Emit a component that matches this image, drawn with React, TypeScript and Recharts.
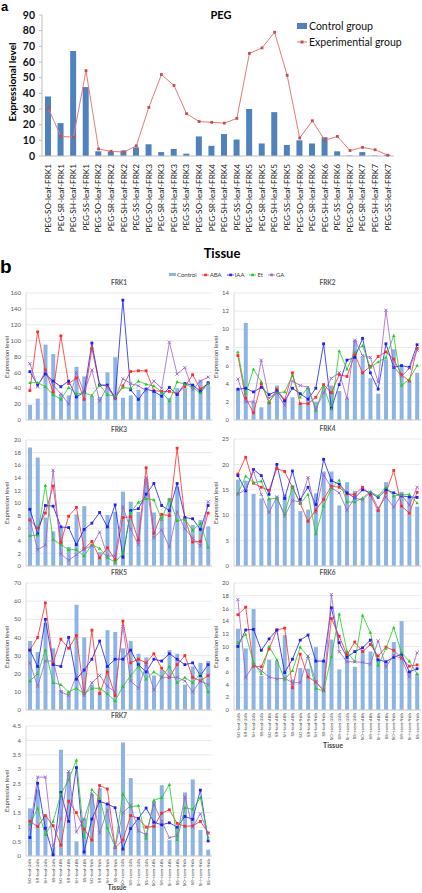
import React from 'react';
import { ComposedChart, Bar, Line, XAxis, YAxis, CartesianGrid } from 'recharts';

// Panel a: PEG treatment
const pegLabels = [
  'PEG-SO-leaf-FRK1', 'PEG-SR-leaf-FRK1', 'PEG-SH-leaf-FRK1', 'PEG-SS-leaf-FRK1',
  'PEG-SO-leaf-FRK2', 'PEG-SR-leaf-FRK2', 'PEG-SH-leaf-FRK2', 'PEG-SS-leaf-FRK2',
  'PEG-SO-leaf-FRK3', 'PEG-SR-leaf-FRK3', 'PEG-SH-leaf-FRK3', 'PEG-SS-leaf-FRK3',
  'PEG-SO-leaf-FRK4', 'PEG-SR-leaf-FRK4', 'PEG-SH-leaf-FRK4', 'PEG-SS-leaf-FRK4',
  'PEG-SO-leaf-FRK5', 'PEG-SR-leaf-FRK5', 'PEG-SH-leaf-FRK5', 'PEG-SS-leaf-FRK5',
  'PEG-SO-leaf-FRK6', 'PEG-SR-leaf-FRK6', 'PEG-SH-leaf-FRK6', 'PEG-SS-leaf-FRK6',
  'PEG-SO-leaf-FRK7', 'PEG-SR-leaf-FRK7', 'PEG-SH-leaf-FRK7', 'PEG-SS-leaf-FRK7',
];
const pegControl = [38, 21, 67, 44, 3, 3, 3.5, 5.5, 7.5, 2.5, 4.5, 1.5, 12.5, 6.5, 14, 10.5, 30, 8, 28, 7, 10, 8, 12, 3, 0.3, 2.5, 0.3, 0.8];
const pegExperimental = [30.5, 12.5, 12, 54.5, 4.5, 3, 2.5, 6.5, 31, 52, 45, 27, 22, 21.5, 21, 24, 65.5, 69, 79, 51.5, 11.5, 22.5, 10, 12.5, 3.5, 5.5, 4, 0.5];
const pegTicks = [0, 10, 20, 30, 40, 50, 60, 70, 80, 90];

// Panel b: hormone treatments
const tissues = [
  'SO-leaf-24h', 'SR-leaf-24h', 'SH-leaf-24h', 'SS-leaf-24h',
  'SO-leaf-48h', 'SR-leaf-48h', 'SH-leaf-48h', 'SS-leaf-48h',
  'SO-leaf-96h', 'SR-leaf-96h', 'SH-leaf-96h', 'SS-leaf-96h',
  'SO-stem-24h', 'SR-stem-24h', 'SH-stem-24h', 'SS-stem-24h',
  'SO-stem-48h', 'SR-stem-48h', 'SH-stem-48h', 'SS-stem-48h',
  'SO-stem-96h', 'SR-stem-96h', 'SH-stem-96h', 'SS-stem-96h',
];

const frk1Control = [19, 27, 95, 83, 33, 31, 67, 55, 30, 29, 60, 79, 28, 31, 38, 40, 37, 35, 28, 40, 40, 45, 50, 44];
const frk1Aba = [37, 111, 63, 35, 106, 46, 53, 26, 90, 44, 43, 27, 43, 61, 62, 62, 37, 36, 36, 33, 42, 57, 39, 46];
const frk1Iaa = [61, 44, 58, 49, 42, 49, 29, 35, 97, 44, 44, 28, 151, 38, 26, 39, 36, 30, 41, 32, 46, 44, 36, 47];
const frk1Et = [47, 47, 42, 32, 26, 41, 33, 34, 31, 44, 32, 30, 41, 40, 49, 45, 43, 35, 24, 48, 45, 41, 34, 46];
const frk1Ga = [71, 42, 62, 44, 33, 20, 60, 35, 63, 24, 42, 27, 52, 46, 43, 37, 49, 40, 98, 58, 66, 38, 49, 54];

const frk2Control = [3.4, 10.7, 2.0, 1.4, 2.0, 3.8, 2.3, 2.5, 1.8, 3.5, 2.0, 3.5, 3.8, 3.2, 2.4, 8.8, 7.0, 4.6, 2.9, 6.7, 7.8, 5.9, 4.3, 5.2];
const frk2Aba = [7.1, 2.4, 0.8, 4.0, 1.9, 3.4, 2.2, 5.2, 1.8, 1.8, 2.5, 3.9, 3.0, 5.0, 4.8, 7.2, 5.2, 5.9, 7.0, 7.5, 6.7, 5.0, 4.3, 7.9];
const frk2Iaa = [3.4, 3.5, 3.1, 3.6, 2.8, 3.2, 2.1, 3.5, 2.9, 2.3, 3.5, 8.4, 1.3, 3.9, 6.6, 6.9, 9.0, 5.2, 3.4, 8.4, 5.8, 6.0, 5.8, 8.3];
const frk2Et = [7.5, 2.9, 5.6, 4.2, 2.0, 3.0, 3.1, 4.9, 2.5, 3.6, 1.0, 3.7, 1.2, 7.6, 5.6, 7.5, 8.2, 5.8, 6.4, 6.9, 9.3, 3.8, 4.5, 6.0];
const frk2Ga = [4.5, 2.0, 2.0, 6.6, 2.4, 3.0, 1.6, 4.3, 3.8, 3.6, 1.2, 3.0, 4.6, 5.2, 2.4, 8.8, 7.1, 6.9, 4.2, 12.1, 5.9, 4.8, 5.7, 7.7];

const frk3Control = [18.8, 17.2, 7.7, 5.5, 6.0, 3.0, 8.2, 9.5, 3.3, 2.2, 8.1, 8.6, 11.8, 10.2, 8.6, 13.8, 8.5, 8.1, 10.8, 12.6, 7.5, 6.5, 7.3, 6.3];
const frk3Aba = [7.3, 6.0, 8.4, 12.7, 3.7, 7.9, 9.3, 2.7, 3.9, 1.3, 2.9, 1.0, 7.7, 7.8, 4.1, 15.6, 5.2, 8.2, 8.0, 18.7, 7.6, 3.8, 3.9, 8.4];
const frk3Iaa = [9.0, 5.1, 9.6, 9.5, 6.2, 6.1, 3.4, 5.8, 6.8, 8.5, 6.2, 9.7, 1.4, 8.8, 9.1, 11.4, 13.1, 9.6, 8.8, 13.1, 7.7, 7.5, 5.8, 9.6];
const frk3Et = [4.8, 4.9, 12.8, 4.2, 3.4, 2.6, 2.6, 1.6, 3.4, 2.8, 1.3, 0.6, 2.0, 8.5, 10.1, 10.7, 10.5, 7.4, 10.6, 7.2, 7.4, 5.7, 6.8, 3.0];
const frk3Ga = [7.4, 2.6, 3.3, 15.2, 1.9, 0.9, 1.8, 2.7, 3.2, 5.4, 1.6, 1.6, 9.4, 5.8, 3.4, 14.0, 4.5, 5.7, 3.0, 8.6, 5.9, 4.4, 3.2, 10.2];

const frk4Control = [17.0, 16.8, 14.2, 13.3, 13.3, 13.7, 14.1, 15.9, 10.8, 11.1, 14.3, 18.6, 18.6, 11.9, 16.5, 14.8, 13.3, 14.5, 11.0, 16.5, 13.9, 14.6, 13.7, 11.7];
const frk4Aba = [18.1, 21.4, 16.3, 15.5, 14.9, 19.2, 18.6, 15.5, 12.3, 8.8, 11.0, 13.1, 15.7, 15.5, 14.2, 14.1, 15.5, 14.0, 10.9, 14.4, 18.8, 11.8, 10.4, 14.5];
const frk4Iaa = [17.8, 14.8, 19.0, 17.8, 14.1, 20.0, 13.3, 18.7, 13.1, 15.5, 12.1, 21.0, 16.8, 16.1, 14.4, 13.4, 15.0, 14.4, 13.5, 15.0, 14.4, 13.8, 13.6, 13.5];
const frk4Et = [14.3, 17.7, 16.4, 16.7, 13.2, 13.3, 10.3, 15.6, 12.3, 14.1, 6.3, 11.8, 15.3, 16.9, 12.6, 12.6, 13.4, 14.6, 13.8, 15.5, 13.8, 14.0, 14.1, 12.4];
const frk4Ga = [14.1, 15.1, 18.6, 14.1, 10.5, 13.6, 9.8, 12.9, 12.6, 17.4, 10.5, 18.0, 15.4, 14.4, 11.0, 13.4, 13.0, 14.5, 11.4, 13.6, 11.6, 14.0, 12.0, 15.5];

const frk5Control = [38, 32, 48, 34, 11, 10, 58, 40, 14, 10, 44, 43, 34, 38, 31, 29, 19, 22, 33, 31, 14, 24, 26, 27];
const frk5Aba = [33, 40, 59, 26, 39, 34, 41, 9, 44, 9, 21, 8, 49, 26, 28, 26, 31, 23, 18, 25, 30, 18, 16, 19];
const frk5Iaa = [33, 24, 50, 25, 24, 40, 17, 22, 28, 38, 24, 28, 28, 33, 25, 21, 28, 27, 31, 28, 25, 26, 19, 25];
const frk5Et = [16, 20, 33, 15, 14, 10, 12, 9, 12, 12, 9, 5, 13, 19, 24, 17, 21, 18, 24, 15, 18, 15, 20, 10];
const frk5Ga = [26, 13, 27, 27, 10, 8, 19, 8, 15, 19, 13, 10, 46, 16, 12, 25, 11, 18, 18, 18, 16, 10, 16, 14];

const frk6Control = [12.8, 9.7, 15.9, 5.4, 7.9, 7.7, 11.8, 4.8, 6.6, 6.5, 9.9, 7.7, 11.1, 6.4, 9.0, 6.8, 9.5, 9.2, 8.0, 7.6, 10.7, 14.0, 6.0, 5.7];
const frk6Aba = [15.0, 16.2, 6.9, 6.8, 9.6, 12.6, 12.9, 3.5, 8.8, 5.2, 4.4, 3.1, 14.4, 11.6, 8.7, 10.7, 9.2, 10.3, 8.5, 9.9, 9.4, 8.2, 6.9, 7.1];
const frk6Iaa = [10.0, 12.6, 12.7, 9.4, 11.2, 12.6, 5.9, 8.0, 11.0, 11.8, 7.7, 7.7, 16.1, 10.6, 8.3, 9.2, 9.8, 11.0, 7.9, 7.6, 8.3, 8.8, 6.0, 6.5];
const frk6Et = [10.6, 11.9, 7.5, 5.7, 10.0, 7.9, 4.8, 6.2, 9.9, 8.4, 3.4, 3.0, 8.4, 15.1, 9.2, 7.6, 14.9, 12.2, 7.0, 9.7, 13.0, 9.0, 7.7, 5.7];
const frk6Ga = [17.4, 5.1, 7.1, 6.2, 5.2, 4.9, 5.0, 4.3, 4.3, 8.5, 4.4, 3.1, 18.2, 9.2, 7.6, 7.6, 7.5, 7.2, 10.9, 6.8, 8.6, 8.1, 5.2, 9.0];

const frk7Control = [1.65, 2.3, 1.4, 0.3, 3.68, 2.9, 0.5, 1.3, 2.15, 2.35, 1.8, 0.3, 3.93, 2.7, 1.3, 0.8, 1.9, 2.45, 0.55, 1.0, 2.2, 2.65, 0.9, 0.22];
const frk7Aba = [1.2, 1.02, 1.4, 1.05, 0.37, 1.9, 1.5, 0.93, 0.55, 2.44, 2.32, 0.3, 0.55, 1.4, 1.3, 1.0, 1.02, 1.48, 1.6, 1.13, 1.03, 1.04, 1.2, 0.8];
const frk7Iaa = [0.64, 2.52, 0.96, 0.04, 2.2, 1.2, 3.06, 0.14, 1.28, 1.89, 1.8, 1.67, 0.24, 0.95, 1.3, 1.66, 1.17, 1.08, 1.15, 1.0, 1.37, 1.27, 2.28, 0.52];
const frk7Et = [1.1, 1.65, 0.74, 1.2, 2.15, 2.64, 3.32, 0.65, 2.3, 2.0, 0.97, 0.32, 2.15, 1.7, 1.75, 0.62, 1.93, 2.02, 2.47, 0.56, 1.67, 1.62, 2.02, 0.65];
const frk7Ga = [0.93, 2.73, 2.73, 0.35, 1.3, 2.93, 0.83, 1.27, 2.15, 0.8, 1.58, 0.3, 1.5, 1.75, 0.87, 0.74, 1.8, 1.2, 0.63, 0.7, 2.04, 1.0, 1.46, 0.78];

const FONT = 'Lato, "Liberation Sans", sans-serif';
const BAR_BLUE = '#8EB4E3';
const COLORS = { aba: '#FF2A2A', iaa: '#1F1FEE', et: '#1FCC1F', ga: '#9A62C8' };

// marker shapes, roughly like the Excel ones
const squareDot = (color: string) => (p: any) => (
  <rect key={`s-${p.index}`} x={p.cx - 1.4} y={p.cy - 1.4} width={2.8} height={2.8} fill={color} />
);
const triangleDot = (color: string) => (p: any) => (
  <path key={`t-${p.index}`} d={`M${p.cx},${p.cy - 1.8}L${p.cx + 1.7},${p.cy + 1.3}L${p.cx - 1.7},${p.cy + 1.3}Z`} fill={color} />
);
const crossDot = (color: string) => (p: any) => (
  <path key={`c-${p.index}`} d={`M${p.cx - 1.6},${p.cy - 1.6}L${p.cx + 1.6},${p.cy + 1.6}M${p.cx + 1.6},${p.cy - 1.6}L${p.cx - 1.6},${p.cy + 1.6}`} stroke={color} strokeWidth={0.9} />
);

const PegTick = (props: any) => {
  const { x, y, payload } = props;
  return (
    <text x={x} y={y} transform={`rotate(-90 ${x} ${y})`} textAnchor="end" dy="0.35em"
      fontSize={8.2} fontFamily={FONT} fill="#111">
      {payload.value}
    </text>
  );
};

const TissueTick = (props: any) => {
  const { x, y, payload } = props;
  return (
    <text x={x} y={y} transform={`rotate(-90 ${x} ${y})`} textAnchor="end" dy="0.35em"
      fontSize={4.6} fontFamily={FONT} fill="#404040">
      {payload.value}
    </text>
  );
};

const abs = (left: number, top: number): React.CSSProperties => ({ position: 'absolute', left, top });

interface SmallProps {
  title: string;
  col: 0 | 1;
  plotTop: number;
  plotBottom: number;
  ticks: number[];
  control: number[];
  aba: number[];
  iaa: number[];
  et: number[];
  ga: number[];
  showX?: boolean;
}

const SmallChart: React.FC<SmallProps> = ({ title, col, plotTop, plotBottom, ticks, control, aba, iaa, et, ga, showX }) => {
  const data = tissues.map((t, i) => ({
    tissue: t, control: control[i], aba: aba[i], iaa: iaa[i], et: et[i], ga: ga[i],
  }));
  const xh = showX ? 40 : 2;
  const height = 4 + (plotBottom - plotTop) + xh;
  const left = col === 0 ? 0 : 207;
  const margin = col === 0 ? { top: 4, right: 3, bottom: 0, left: 8 } : { top: 4, right: 1, bottom: 0, left: 9 };
  const plotLeft = left + margin.left + 18;
  const plotRight = left + 215 - margin.right;
  const midX = (plotLeft + plotRight) / 2;
  return (
    <>
      <div style={{ ...abs(midX - 30, plotTop - 14), width: 60, textAlign: 'center', fontSize: 6.5, fontWeight: 700, color: '#595959' }}>
        {title}
      </div>
      <div style={{
        ...abs(left + (col === 0 ? 7 : 9) - 30, (plotTop + plotBottom) / 2 - 4), width: 60, textAlign: 'center',
        fontSize: 6, color: '#404040', transform: 'rotate(-90deg)', lineHeight: '8px',
      }}>
        Expression level
      </div>
      <div style={abs(left, plotTop - 4)}>
        <ComposedChart width={215} height={height} data={data} margin={margin} style={{ overflow: 'visible' }}>
          <CartesianGrid vertical={false} stroke="#DCDCDC" strokeWidth={0.6} />
          <XAxis dataKey="tissue" interval={0} height={xh} axisLine={{ stroke: '#D0D0D0' }} tickLine={false}
            tickSize={2} tickMargin={1} tick={showX ? <TissueTick /> : false} />
          <YAxis width={18} domain={[ticks[0], ticks[ticks.length - 1]]} ticks={ticks} interval={0}
            axisLine={{ stroke: '#D9D9D9' }} tickLine={false} tickSize={3} tickMargin={2}
            tick={{ fontSize: 6, fill: '#595959', fontFamily: FONT }} />
          <Bar dataKey="control" fill={BAR_BLUE} barSize={4} isAnimationActive={false} />
          <Line dataKey="aba" stroke={COLORS.aba} strokeWidth={0.8} dot={squareDot(COLORS.aba)} isAnimationActive={false} />
          <Line dataKey="iaa" stroke={COLORS.iaa} strokeWidth={0.8} dot={squareDot(COLORS.iaa)} isAnimationActive={false} />
          <Line dataKey="et" stroke={COLORS.et} strokeWidth={0.8} dot={triangleDot(COLORS.et)} isAnimationActive={false} />
          <Line dataKey="ga" stroke={COLORS.ga} strokeWidth={0.8} dot={crossDot(COLORS.ga)} isAnimationActive={false} />
        </ComposedChart>
      </div>
    </>
  );
};

const legendItem = (color: string, label: string, bar?: boolean) => (
  <span key={label} style={{ display: 'inline-flex', alignItems: 'center', marginRight: 5 }}>
    {bar ? (
      <span style={{ display: 'inline-block', width: 7, height: 3, background: color, marginRight: 1 }} />
    ) : (
      <svg width={7} height={4} style={{ marginRight: 1 }}>
        <line x1={0} y1={2} x2={7} y2={2} stroke={color} strokeWidth={0.8} />
        <rect x={2.3} y={0.6} width={2.6} height={2.6} fill={color} />
      </svg>
    )}
    {label}
  </span>
);

export default function App() {
  const pegData = pegLabels.map((l, i) => ({ label: l, control: pegControl[i], experimental: pegExperimental[i] }));
  return (
    <div style={{ position: 'relative', width: 422, height: 893, overflow: 'hidden', background: '#fff', fontFamily: FONT }}>
      <style>{'body{margin:0}'}</style>

      {/* panel a */}
      <div style={{ ...abs(1, 0), fontSize: 13, lineHeight: '13px', fontWeight: 700, fontFamily: '"Liberation Sans", sans-serif' }}>a</div>
      <div style={{ ...abs(191, 8), width: 60, textAlign: 'center', fontSize: 11, fontWeight: 700 }}>PEG</div>
      <div style={{ ...abs(-38, 76), width: 100, textAlign: 'center', fontSize: 10, fontWeight: 700, transform: 'rotate(-90deg)' }}>
        Expressional level
      </div>
      <div style={{ ...abs(297, 18), fontSize: 10.5, lineHeight: '16px', color: '#111' }}>
        <div style={{ display: 'flex', alignItems: 'center' }}>
          <span style={{ display: 'inline-block', width: 10, height: 6, background: '#4F81BD', marginRight: 2 }} />
          Control group
        </div>
        <div style={{ display: 'flex', alignItems: 'center' }}>
          <svg width={10} height={6} style={{ marginRight: 2 }}>
            <line x1={0} y1={3} x2={10} y2={3} stroke="#E07070" strokeWidth={1} />
            <rect x={3.5} y={1.5} width={3} height={3} fill="#C0504D" />
          </svg>
          Experimential group
        </div>
      </div>
      <div style={abs(0, 0)}>
        <ComposedChart width={422} height={250} data={pegData} margin={{ top: 15, right: 28, bottom: 0, left: 14 }}>
          <XAxis dataKey="label" interval={0} height={94} axisLine={{ stroke: '#BFBFBF' }} tickLine={false}
            tick={<PegTick />} />
          <YAxis width={28} domain={[0, 90]} ticks={pegTicks} interval={0} axisLine={{ stroke: '#BFBFBF' }}
            tickLine={{ stroke: '#BFBFBF' }} tickSize={3} tickMargin={4}
            tick={{ fontSize: 10.5, fontWeight: 700, fill: '#111', fontFamily: FONT }} />
          <Bar dataKey="control" fill="#4F81BD" barSize={6} isAnimationActive={false} />
          <Line dataKey="experimental" stroke="#E57B7B" strokeWidth={1} dot={squareDot('#C0504D')} isAnimationActive={false} />
        </ComposedChart>
      </div>
      <div style={{ ...abs(172, 245), width: 100, textAlign: 'center', fontSize: 13, lineHeight: '16px', fontWeight: 700 }}>Tissue</div>

      {/* panel b */}
      <div style={{ ...abs(0, 257), fontSize: 19, lineHeight: '20px', fontWeight: 700, fontFamily: '"Liberation Sans", sans-serif' }}>b</div>
      <div style={{ ...abs(169, 271), fontSize: 6, color: '#404040', display: 'flex', alignItems: 'center' }}>
        {legendItem(BAR_BLUE, 'Control', true)}
        {legendItem(COLORS.aba, 'ABA')}
        {legendItem(COLORS.iaa, 'IAA')}
        {legendItem(COLORS.et, 'Et')}
        {legendItem(COLORS.ga, 'GA')}
      </div>

      <SmallChart title="FRK1" col={0} plotTop={293} plotBottom={420} ticks={[0, 20, 40, 60, 80, 100, 120, 140, 160]}
        control={frk1Control} aba={frk1Aba} iaa={frk1Iaa} et={frk1Et} ga={frk1Ga} />
      <SmallChart title="FRK2" col={1} plotTop={293} plotBottom={420} ticks={[0, 2, 4, 6, 8, 10, 12, 14]}
        control={frk2Control} aba={frk2Aba} iaa={frk2Iaa} et={frk2Et} ga={frk2Ga} />
      <SmallChart title="FRK3" col={0} plotTop={440} plotBottom={566} ticks={[0, 2, 4, 6, 8, 10, 12, 14, 16, 18, 20]}
        control={frk3Control} aba={frk3Aba} iaa={frk3Iaa} et={frk3Et} ga={frk3Ga} />
      <SmallChart title="FRK4" col={1} plotTop={439} plotBottom={566} ticks={[0, 5, 10, 15, 20, 25]}
        control={frk4Control} aba={frk4Aba} iaa={frk4Iaa} et={frk4Et} ga={frk4Ga} />
      <SmallChart title="FRK5" col={0} plotTop={583} plotBottom={710} ticks={[0, 10, 20, 30, 40, 50, 60, 70]}
        control={frk5Control} aba={frk5Aba} iaa={frk5Iaa} et={frk5Et} ga={frk5Ga} />
      <SmallChart title="FRK6" col={1} plotTop={583} plotBottom={710} ticks={[0, 2, 4, 6, 8, 10, 12, 14, 16, 18, 20]}
        control={frk6Control} aba={frk6Aba} iaa={frk6Iaa} et={frk6Et} ga={frk6Ga} showX />
      <div style={{ ...abs(303, 741), width: 60, textAlign: 'center', fontSize: 7, lineHeight: '9px', fontWeight: 700, color: '#404040' }}>Tissue</div>
      <SmallChart title="FRK7" col={0} plotTop={726} plotBottom={856} ticks={[0, 0.5, 1, 1.5, 2, 2.5, 3, 3.5, 4, 4.5]}
        control={frk7Control} aba={frk7Aba} iaa={frk7Iaa} et={frk7Et} ga={frk7Ga} showX />
      <div style={{ ...abs(87, 884), width: 60, textAlign: 'center', fontSize: 6.5, lineHeight: '8px', fontWeight: 700, color: '#404040' }}>Tissue</div>
    </div>
  );
}
